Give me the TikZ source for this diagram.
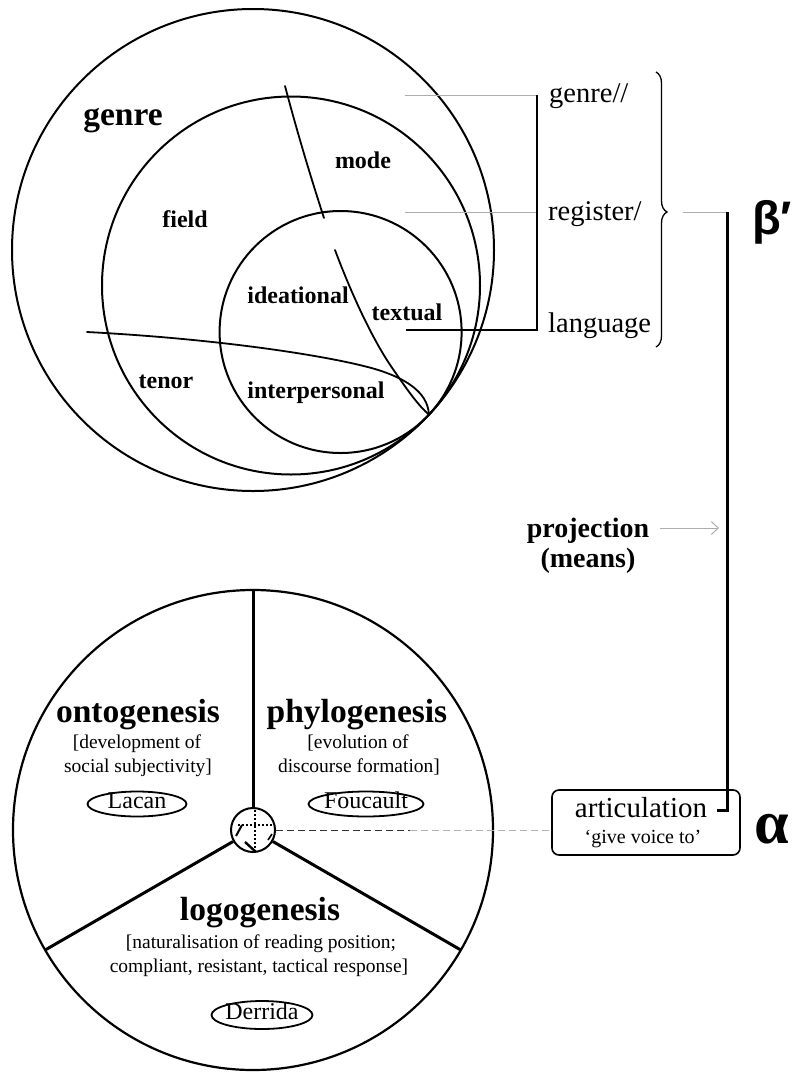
\documentclass[tikz,border=0pt]{standalone}
\usepackage{fontspec}
\setmainfont{Liberation Serif}
\newfontfamily\greeksans{Liberation Sans}
\usetikzlibrary{decorations.pathreplacing,arrows.meta,shapes.geometric,calc}

\tikzset{
  ring/.style={draw, line width=2pt},
  divider/.style={draw, line width=1.8pt, line cap=round},
  guide/.style={draw=black!32, line width=1pt},
  rail/.style={draw, line width=2pt},
  heavyrail/.style={draw, line width=3pt},
  spoke/.style={draw, line width=3pt},
  dashlink/.style={line width=1pt, dash pattern=on 7pt off 4pt},
  lbl/.style={font=\bfseries\fontsize{24}{28}\selectfont, inner sep=0pt, anchor=base},
  stratum/.style={font=\fontsize{28.5}{32}\selectfont, inner sep=0pt, anchor=base west},
  genesis/.style={font=\bfseries\fontsize{33.5}{38}\selectfont, inner sep=0pt, anchor=base},
  gloss/.style={font=\fontsize{19.5}{23}\selectfont, inner sep=0pt, anchor=base},
  theorist/.style={draw, ellipse, line width=1.8pt, font=\fontsize{24}{28}\selectfont,
    inner xsep=-4pt, inner ysep=0pt, text height=12pt, text depth=4pt, minimum height=25pt},
}

\begin{document}
\begin{tikzpicture}[x=1pt,y=-1pt]
\useasboundingbox (0,0) rectangle (796,1072);

% ---------- stratified context: three circles sharing one tangent point ----------
\coordinate (outerC) at (253,250);
\coordinate (midC)   at (291,285.5);
\coordinate (innerC) at (340.6,332);
\coordinate (T)      at (428.9,414.6);
\draw[ring] (outerC) circle[radius=241pt];
\draw[ring] (midC)   circle[radius=189pt];
\draw[ring] (innerC) circle[radius=121pt];

% metafunction / register dividers
\draw[divider] (285,86) .. controls (298,135) and (311,178) .. (324,218);
\draw[divider] (335,250) .. controls (350,290) and (372,340) .. (395,372)
               .. controls (410,394) and (420,407) .. (T);
\draw[divider] (87,332) .. controls (220,339) and (330,356) .. (375,369)
               .. controls (405,378) and (428,392) .. (T);

\node[genesis] (genreL) at (123,125) {genre};
\node[lbl] (mode)  at (363,168) {mode};
\node[lbl] (field) at (185,227) {field};
\node[lbl] (ideational) at (298,303) {ideational};
\node[lbl] (textual) at (407,320) {textual};
\node[lbl] (interpersonal) at (316,398) {interpersonal};
\node[lbl] (tenor) at (166,388) {tenor};

% ---------- strata labels and their bracket ----------
\node[stratum] (genreS) at (549,102) {genre//};
\node[stratum] (registerS) at (548,220) {register/};
\node[stratum] (languageS) at (548,332) {language};

\coordinate (gA) at (405,95);
\coordinate (rA) at (405,212);
\coordinate (lA) at (406,330);
\coordinate (bar) at (537,95);
\draw[guide] (gA) -- (bar);
\draw[guide] (rA) -- (rA -| bar);
\draw[rail] (lA) -- (lA -| bar) -- (bar);

\draw[line width=1.3pt, decorate, decoration={brace, amplitude=11pt, aspect=0.509}]
  (656,72) -- (656,347);

\coordinate (rj) at (727,212);
\draw[guide] (683,212) -- (rj);
\node[anchor=west, inner sep=0pt, font=\greeksans\bfseries\fontsize{47}{50}\selectfont] (beta) at (752,222) {β′};

% ---------- projection ----------
\node[font=\bfseries\fontsize{28}{32}\selectfont, inner sep=0pt, anchor=base] (projection) at (588,537) {projection};
\node[font=\bfseries\fontsize{28}{32}\selectfont, inner sep=0pt, anchor=base] (means) at (588,567) {(means)};
\coordinate (projstart) at (660,528);
\coordinate (projtip) at (719,528);
\draw[guide, -{Straight Barb[length=7pt, width=13pt, line width=1pt]}] (projstart) -- (projtip);

% ---------- articulation ----------
\node[draw, rounded corners=7pt, line width=1.6pt, minimum width=188pt, minimum height=65pt, inner sep=0pt]
  (voicebox) at (646,822.5) {};
\node[font=\fontsize{29}{32}\selectfont, inner sep=0pt, anchor=base] (articulation) at (641,817) {articulation};
\node[font=\fontsize{20}{24}\selectfont, inner sep=0pt, anchor=base] (givevoice) at (643,843) {‘give voice to’};
\coordinate (tickend) at (717,810);
\draw[heavyrail] (rj) -- (rj |- tickend) -- (tickend);
\node[font=\bfseries\fontsize{62}{66}\selectfont, inner sep=0pt, anchor=base] (alpha) at (772,843) {α};

% ---------- the three genesis sectors ----------
\coordinate (C) at (253,830);
\draw[ring, line width=2.2pt] (C) circle[radius=240pt];
\node[draw, circle, minimum size=44pt, inner sep=0pt, line width=2pt] (hub) at (C) {};
\coordinate (spokeN) at ($(C)+(90:240pt)$);
\coordinate (spokeL) at ($(C)+(210:240pt)$);
\coordinate (spokeR) at ($(C)+(330:240pt)$);
\draw[spoke] (hub.north) -- (spokeN);
\draw[spoke] (hub.210) -- (spokeL);
\draw[spoke] (hub.330) -- (spokeR);

% inner cross and marks of the hub
\draw[line width=1.6pt, dash pattern=on 1.6pt off 2.4pt] (255,810) -- (255,850);
\draw[line width=1.6pt, dash pattern=on 1.6pt off 2.4pt] (238,825) -- (274,825);
\draw[line width=2pt] (236,836) -- (242,825);
\draw[line width=2.4pt] (245,842) -- (256,852);
\draw[line width=1.6pt] (268,840) -- (272,834);

% dashed link from the hub to the articulation box
\coordinate (dashsplit) at (410,830);
\draw[dashlink, draw=black!80] (hub.east) -- (hub.east -| dashsplit);
\draw[dashlink, draw=black!30] (hub.east -| dashsplit) -- (hub.east -| voicebox.west);

\node[genesis] (onto) at (138,722) {ontogenesis};
\node[gloss] (ontoA) at (137,748) {[development of};
\node[gloss] (ontoB) at (138,772) {social subjectivity]};
\node[theorist, minimum width=99pt] (lacan) at (137,804) {Lacan};

\node[genesis] (phylo) at (357,722) {phylogenesis};
\node[gloss] (phyloA) at (358,748) {[evolution of};
\node[gloss] (phyloB) at (359,772) {discourse formation]};
\node[theorist, minimum width=115pt] (foucault) at (366,804) {Foucault};

\node[genesis] (logo) at (260,920) {logogenesis};
\node[gloss] (logoA) at (261,948) {[naturalisation of reading position;};
\node[gloss] (logoB) at (259,972) {compliant, resistant, tactical response]};
\node[theorist, minimum width=101pt, minimum height=28pt] (derrida) at (262,1015) {Derrida};

\end{tikzpicture}
\end{document}
